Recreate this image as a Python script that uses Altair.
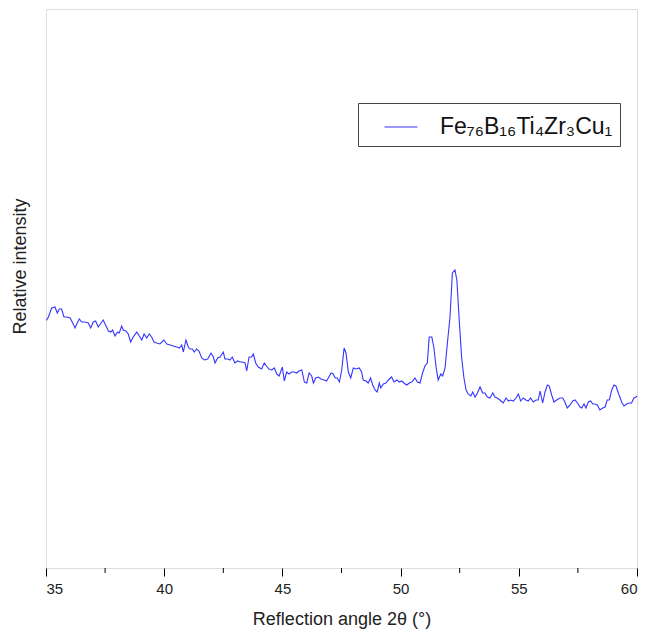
import altair as alt
import pandas as pd

two_theta = [35.00, 35.03, 35.10, 35.24, 35.38, 35.48, 35.56, 35.66, 35.76, 35.88, 36.02, 36.13, 36.23, 36.32,
             36.41, 36.51, 36.65, 36.79, 36.89, 37.00, 37.10, 37.21, 37.33, 37.42, 37.54, 37.64, 37.74, 37.82,
             37.92, 38.02, 38.10, 38.20, 38.27, 38.38, 38.48, 38.58, 38.69, 38.84, 38.95, 39.05, 39.15, 39.26,
             39.37, 39.47, 39.57, 39.68, 39.82, 39.99, 40.11, 40.25, 40.38, 40.53, 40.64, 40.74, 40.81, 40.92,
             41.02, 41.09, 41.19, 41.27, 41.37, 41.47, 41.59, 41.70, 41.84, 41.98, 42.08, 42.15, 42.26, 42.36,
             42.50, 42.57, 42.69, 42.78, 42.88, 42.99, 43.11, 43.21, 43.30, 43.42, 43.49, 43.59, 43.70, 43.77,
             43.87, 43.98, 44.12, 44.23, 44.33, 44.43, 44.55, 44.66, 44.76, 44.86, 45.00, 45.08, 45.18, 45.28,
             45.39, 45.50, 45.60, 45.70, 45.82, 45.93, 46.03, 46.13, 46.24, 46.31, 46.41, 46.52, 46.63, 46.77,
             46.87, 46.94, 47.06, 47.15, 47.23, 47.32, 47.41, 47.51, 47.61, 47.69, 47.79, 47.89, 48.00, 48.11,
             48.25, 48.35, 48.42, 48.54, 48.63, 48.73, 48.82, 48.92, 49.01, 49.10, 49.16, 49.27, 49.38, 49.48,
             49.62, 49.72, 49.84, 49.95, 50.05, 50.14, 50.26, 50.37, 50.47, 50.61, 50.71, 50.82, 50.93, 51.03,
             51.13, 51.21, 51.32, 51.41, 51.50, 51.59, 51.70, 51.78, 51.88, 51.98, 52.09, 52.19, 52.30, 52.38,
             52.48, 52.58, 52.68, 52.77, 52.86, 52.97, 53.05, 53.15, 53.25, 53.36, 53.47, 53.57, 53.67, 53.78,
             53.90, 53.99, 54.09, 54.20, 54.34, 54.46, 54.56, 54.66, 54.77, 54.88, 54.98, 55.08, 55.19, 55.30,
             55.40, 55.50, 55.61, 55.73, 55.82, 55.90, 56.01, 56.11, 56.21, 56.29, 56.39, 56.49, 56.60, 56.74,
             56.86, 56.95, 57.05, 57.17, 57.28, 57.38, 57.48, 57.59, 57.66, 57.76, 57.84, 57.94, 58.04, 58.13,
             58.22, 58.32, 58.43, 58.55, 58.65, 58.74, 58.83, 58.93, 59.03, 59.11, 59.21, 59.35, 59.45, 59.56,
             59.67, 59.77, 59.87, 59.96, 60.00]

intensity = [248, 248, 251, 260, 261, 255, 259, 259, 251, 251, 250, 245, 240, 245,
             249, 246, 246, 245, 240, 246, 247, 241, 245, 248, 242, 237, 236, 238,
             232, 236, 235, 242, 238, 237, 234, 226, 231, 236, 232, 228, 234, 230,
             234, 231, 226, 225, 224, 228, 224, 223, 222, 221, 220, 223, 216, 228,
             221, 219, 219, 216, 219, 217, 210, 208, 209, 215, 211, 205, 210, 211,
             216, 209, 209, 208, 211, 205, 207, 206, 206, 205, 197, 211, 211, 214,
             205, 201, 199, 205, 202, 199, 198, 200, 194, 192, 201, 187, 196, 194,
             196, 196, 195, 197, 198, 186, 185, 195, 192, 185, 190, 191, 189, 188,
             187, 190, 195, 194, 190, 190, 186, 198, 220, 215, 196, 190, 200, 199,
             200, 196, 188, 187, 185, 190, 183, 178, 176, 185, 180, 184, 185, 188,
             191, 186, 188, 186, 187, 185, 183, 185, 186, 190, 186, 185, 195, 202,
             205, 231, 231, 220, 201, 188, 194, 192, 200, 225, 251, 295, 298, 288,
             248, 211, 190, 178, 174, 172, 176, 171, 175, 181, 175, 175, 171, 170,
             175, 171, 170, 168, 165, 170, 167, 168, 167, 170, 174, 167, 170, 168,
             167, 170, 166, 168, 168, 177, 165, 176, 183, 182, 173, 166, 168, 170,
             170, 166, 160, 163, 167, 168, 165, 161, 160, 164, 160, 166, 167, 164,
             164, 163, 158, 160, 161, 168, 168, 178, 183, 182, 175, 166, 162, 164,
             165, 165, 170, 171, 172]

series_name = "Fe₇₆B₁₆Ti₄Zr₃Cu₁"
major_ticks = [35, 40, 45, 50, 55, 60]
minor_ticks = [37.5, 42.5, 47.5, 52.5, 57.5]

df = pd.DataFrame({"two_theta": two_theta, "intensity": intensity, "series": series_name})
minor_df = pd.DataFrame({"m": minor_ticks})

FONT = "Liberation Sans"
x_scale = alt.Scale(domain=[35, 60], nice=False, zero=False)

line = alt.Chart(df).mark_line(strokeWidth=1.1, clip=True).encode(
    x=alt.X("two_theta:Q", scale=x_scale,
            axis=alt.Axis(values=major_ticks, title="Reflection angle 2θ (°)", grid=False, domain=False,
                          tickSize=8, tickColor="black", tickWidth=1, labelFontSize=15, labelColor="#222",
                          labelPadding=5, titleFontSize=18, titleFontWeight="normal", titleColor="#222",
                          titlePadding=14, labelFont=FONT, titleFont=FONT)),
    y=alt.Y("intensity:Q", scale=alt.Scale(domain=[0, 559], nice=False, zero=False),
            axis=alt.Axis(labels=False, ticks=False, domain=False, grid=False, title="Relative intensity",
                          titleFontSize=18, titleFontWeight="normal", titleColor="#222", titleFont=FONT,
                          titleX=-26, titleY=257, titleAlign="center", titleBaseline="middle", titleAngle=270)),
    color=alt.Color("series:N", scale=alt.Scale(range=["#3535ff"]),
                    legend=alt.Legend(title=None, orient="none", legendX=312, legendY=94,
                                      symbolType="stroke", symbolSize=1089, symbolStrokeWidth=1,
                                      symbolOffset=19, labelOffset=22, labelFontSize=23, labelFont=FONT,
                                      labelColor="#111", padding=7, strokeColor="#444", fillColor="white",
                                      labelLimit=400)),
)

minor = alt.Chart(minor_df).mark_rule(color="black", strokeWidth=1, clip=False).encode(
    x=alt.X("m:Q", scale=x_scale),
    y=alt.value(559),
    y2=alt.value(564),
)

chart = alt.layer(line, minor).properties(
    width=591, height=559,
    autosize=alt.AutoSizeParams(type="none"),
    padding={"left": 38, "top": 1, "right": 2, "bottom": 64},
).configure_view(stroke="black", strokeWidth=1.5).configure(background="white")

chart.save("out.html", embed_options={"renderer": "svg", "actions": False})
